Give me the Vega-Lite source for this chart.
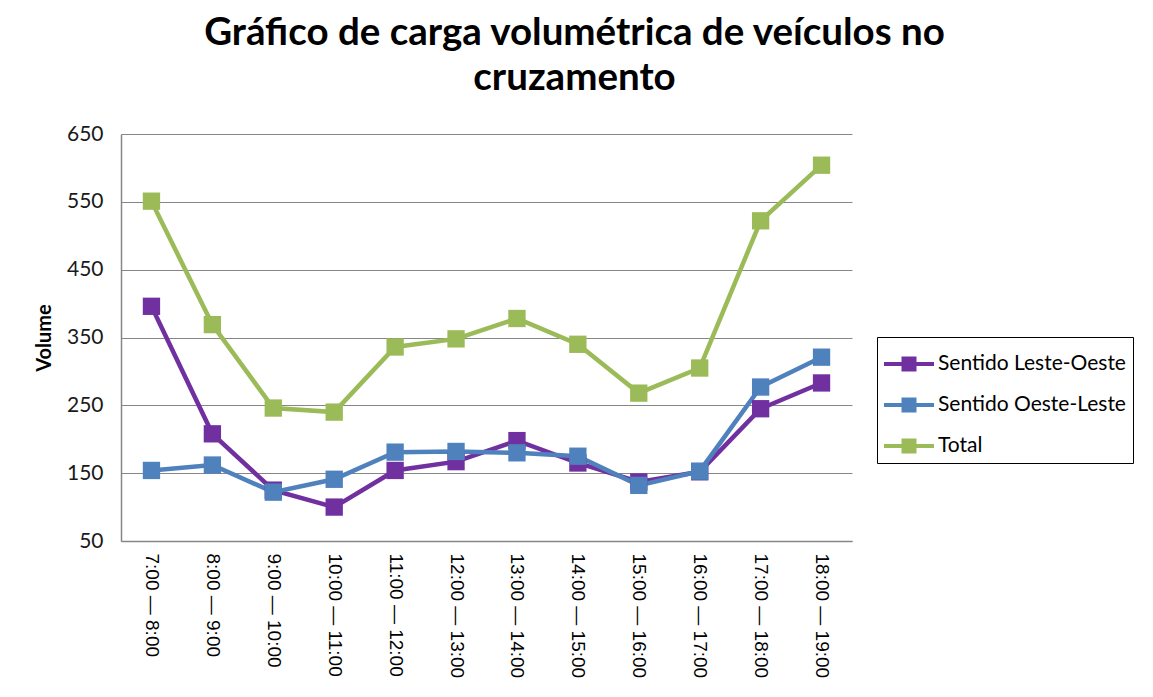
{
  "$schema": "https://vega.github.io/schema/vega-lite/v6.json",
  "width": 731,
  "height": 407,
  "autosize": "none",
  "padding": {"left": 121, "top": 134, "right": 301, "bottom": 156},
  "background": "white",
  "config": {"view": {"stroke": null}},
  "title": {
    "text": ["Gráfico de carga volumétrica de veículos no", "cruzamento"],
    "font": "Lato",
    "fontSize": 38.5,
    "fontWeight": "bold",
    "lineHeight": 45,
    "color": "#000000",
    "anchor": "middle",
    "dx": 88,
    "offset": 25
  },
  "data": {
    "values": [
      {"periodo": "7:00 — 8:00", "serie": "Sentido Leste-Oeste", "volume": 396},
      {"periodo": "8:00 — 9:00", "serie": "Sentido Leste-Oeste", "volume": 208},
      {"periodo": "9:00 — 10:00", "serie": "Sentido Leste-Oeste", "volume": 125},
      {"periodo": "10:00 — 11:00", "serie": "Sentido Leste-Oeste", "volume": 100},
      {"periodo": "11:00 — 12:00", "serie": "Sentido Leste-Oeste", "volume": 154},
      {"periodo": "12:00 — 13:00", "serie": "Sentido Leste-Oeste", "volume": 167},
      {"periodo": "13:00 — 14:00", "serie": "Sentido Leste-Oeste", "volume": 198},
      {"periodo": "14:00 — 15:00", "serie": "Sentido Leste-Oeste", "volume": 165},
      {"periodo": "15:00 — 16:00", "serie": "Sentido Leste-Oeste", "volume": 137},
      {"periodo": "16:00 — 17:00", "serie": "Sentido Leste-Oeste", "volume": 152},
      {"periodo": "17:00 — 18:00", "serie": "Sentido Leste-Oeste", "volume": 245},
      {"periodo": "18:00 — 19:00", "serie": "Sentido Leste-Oeste", "volume": 283},
      {"periodo": "7:00 — 8:00", "serie": "Sentido Oeste-Leste", "volume": 154},
      {"periodo": "8:00 — 9:00", "serie": "Sentido Oeste-Leste", "volume": 162},
      {"periodo": "9:00 — 10:00", "serie": "Sentido Oeste-Leste", "volume": 122},
      {"periodo": "10:00 — 11:00", "serie": "Sentido Oeste-Leste", "volume": 141},
      {"periodo": "11:00 — 12:00", "serie": "Sentido Oeste-Leste", "volume": 181},
      {"periodo": "12:00 — 13:00", "serie": "Sentido Oeste-Leste", "volume": 182},
      {"periodo": "13:00 — 14:00", "serie": "Sentido Oeste-Leste", "volume": 180},
      {"periodo": "14:00 — 15:00", "serie": "Sentido Oeste-Leste", "volume": 175},
      {"periodo": "15:00 — 16:00", "serie": "Sentido Oeste-Leste", "volume": 132},
      {"periodo": "16:00 — 17:00", "serie": "Sentido Oeste-Leste", "volume": 153},
      {"periodo": "17:00 — 18:00", "serie": "Sentido Oeste-Leste", "volume": 277},
      {"periodo": "18:00 — 19:00", "serie": "Sentido Oeste-Leste", "volume": 321},
      {"periodo": "7:00 — 8:00", "serie": "Total", "volume": 551},
      {"periodo": "8:00 — 9:00", "serie": "Total", "volume": 369},
      {"periodo": "9:00 — 10:00", "serie": "Total", "volume": 246},
      {"periodo": "10:00 — 11:00", "serie": "Total", "volume": 240},
      {"periodo": "11:00 — 12:00", "serie": "Total", "volume": 336},
      {"periodo": "12:00 — 13:00", "serie": "Total", "volume": 348},
      {"periodo": "13:00 — 14:00", "serie": "Total", "volume": 378},
      {"periodo": "14:00 — 15:00", "serie": "Total", "volume": 340},
      {"periodo": "15:00 — 16:00", "serie": "Total", "volume": 268},
      {"periodo": "16:00 — 17:00", "serie": "Total", "volume": 305},
      {"periodo": "17:00 — 18:00", "serie": "Total", "volume": 522},
      {"periodo": "18:00 — 19:00", "serie": "Total", "volume": 604}
    ]
  },
  "encoding": {
    "x": {
      "field": "periodo",
      "type": "ordinal",
      "sort": null,
      "scale": {"type": "point", "padding": 0.5},
      "axis": {
        "title": null,
        "labelAngle": 90,
        "labelFont": "Liberation Sans",
        "labelFontSize": 19,
        "labelColor": "#000000",
        "labelPadding": 12,
        "ticks": false,
        "tickSize": 0,
        "domainColor": "#868686",
        "domainWidth": 1.5,
        "grid": false
      }
    },
    "y": {
      "field": "volume",
      "type": "quantitative",
      "scale": {"domain": [50, 650], "nice": false, "zero": false},
      "axis": {
        "title": "Volume",
        "titleFont": "Lato",
        "titleFontSize": 20,
        "titleFontWeight": "bold",
        "titleColor": "#000000",
        "titlePadding": 12,
        "values": [50, 150, 250, 350, 450, 550, 650],
        "labelFont": "Lato",
        "labelFontSize": 21,
        "labelColor": "#1a1a1a",
        "labelPadding": 18,
        "ticks": false,
        "tickSize": 0,
        "domainColor": "#868686",
        "domainWidth": 1.5,
        "grid": true,
        "gridColor": "#868686",
        "gridWidth": 1.2
      }
    },
    "color": {
      "field": "serie",
      "type": "nominal",
      "scale": {
        "domain": ["Sentido Leste-Oeste", "Sentido Oeste-Leste", "Total"],
        "range": ["#7030A0", "#4F81BD", "#9BBB59"]
      },
      "legend": {
        "title": null,
        "orient": "none",
        "legendX": 756,
        "legendY": 203,
        "direction": "vertical",
        "strokeColor": "#000000",
        "fillColor": "white",
        "padding": 7,
        "labelFont": "Lato",
        "labelFontSize": 21,
        "labelColor": "#000000",
        "labelOffset": 14,
        "labelLimit": 0,
        "rowPadding": 11,
        "symbolType": "M-1,-0.1H-0.125V-0.375H0.625V-0.1H1.5V0.1H0.625V0.375H-0.125V0.1H-1Z",
        "symbolSize": 1600,
        "symbolStrokeWidth": 0,
        "encode": {
          "symbols": {"update": {"fill": {"signal": "scale('color', datum.value)"}}}
        }
      }
    }
  },
  "layer": [
    {"mark": {"type": "line", "strokeWidth": 4.5}},
    {"mark": {"type": "point", "shape": "square", "filled": true, "size": 300, "opacity": 1}}
  ]
}
